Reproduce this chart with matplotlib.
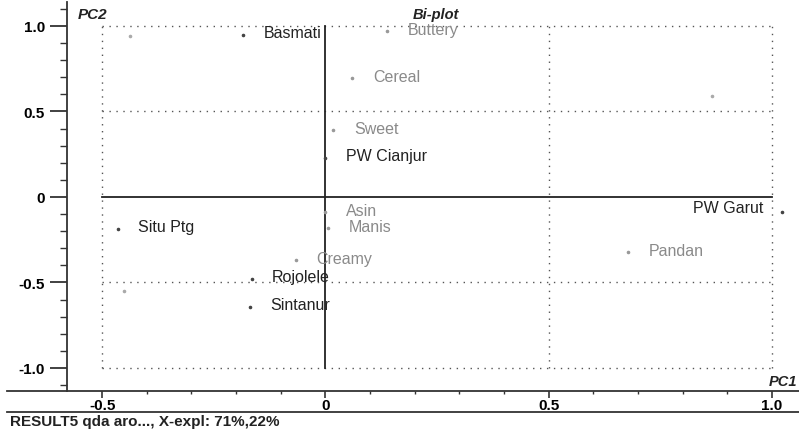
import matplotlib
matplotlib.use("Agg")
import matplotlib.pyplot as plt
from matplotlib.lines import Line2D
from matplotlib.ticker import MultipleLocator

plt.rcParams['font.family'] = ['Liberation Sans', 'DejaVu Sans']

# Samples (scores) - black labels
sample_names = ["Basmati", "PW Cianjur", "PW Garut", "Situ Ptg", "Rojolele", "Sintanur"]
sample_pc1 = [-0.184, 0.0, 1.022, -0.465, -0.165, -0.169]
sample_pc2 = [0.947, 0.228, -0.088, -0.187, -0.48, -0.645]

# Attributes (loadings) - grey labels
attr_names = ["Buttery", "Cereal", "Sweet", "Asin", "Manis", "Creamy", "Pandan"]
attr_pc1 = [0.137, 0.06, 0.018, 0.0, 0.005, -0.067, 0.678]
attr_pc2 = [0.97, 0.695, 0.39, -0.088, -0.18, -0.37, -0.32]

# Unlabelled faint points
extra_pc1 = [-0.438, -0.452, 0.865]
extra_pc2 = [0.94, -0.55, 0.59]

xticks = [-0.5, 0, 0.5, 1.0]
xtick_labels = ["-0.5", "0", "0.5", "1.0"]
yticks = [1.0, 0.5, 0, -0.5, -1.0]
ytick_labels = ["1.0", "0.5", "0", "-0.5", "-1.0"]

fig = plt.figure(figsize=(7.99, 4.31), dpi=100)
ax = fig.add_axes([67/799, 39/431, 1 - 67/799, (392-3)/431])
ax.set_xlim(-0.5787, 1.0605)
ax.set_ylim(-1.135, 1.14)

for s in ["top", "right"]:
    ax.spines[s].set_visible(False)
ax.spines["left"].set_linewidth(1.3)
ax.spines["left"].set_color("#333333")
ax.spines["bottom"].set_visible(False)

# dotted grid box
dot_kw = dict(color="#555555", linestyle=(0, (1, 4)), linewidth=1.0, zorder=1)
for xv in [-0.5, 0.5, 1.0]:
    ax.plot([xv, xv], [-1.0, 1.0], **dot_kw)
for yv in [1.0, 0.5, -0.5, -1.0]:
    ax.plot([-0.5, 1.0], [yv, yv], **dot_kw)
# solid axes lines
ax.plot([0, 0], [-1.0, 1.0], color="#222222", linewidth=1.3, zorder=2)
ax.plot([-0.5, 1.0], [0, 0], color="#222222", linewidth=1.3, zorder=2)

# points
ax.scatter(sample_pc1, sample_pc2, s=2.5, color="#444444", zorder=3)
ax.scatter(attr_pc1, attr_pc2, s=2.5, color="#999999", zorder=3)
ax.scatter(extra_pc1, extra_pc2, s=2.5, color="#aaaaaa", zorder=3)

LBL = 11.5
for n, x, y in zip(sample_names, sample_pc1, sample_pc2):
    if n == "PW Garut":
        ax.annotate(n, (x, y), xytext=(-13, 3), textcoords="offset points",
                    ha="right", va="center", fontsize=LBL, color="#222222")
    else:
        ax.annotate(n, (x, y), xytext=(14.5, 2), textcoords="offset points",
                    ha="left", va="center", fontsize=LBL, color="#222222")
for n, x, y in zip(attr_names, attr_pc1, attr_pc2):
    ax.annotate(n, (x, y), xytext=(15, 1), textcoords="offset points",
                ha="left", va="center", fontsize=LBL, color="#8a8a8a")

# ticks
ax.set_yticks(yticks)
ax.set_yticklabels(ytick_labels, fontweight="bold", fontsize=11)
ax.yaxis.set_minor_locator(MultipleLocator(0.1))
ax.tick_params(axis="y", which="major", length=12, width=1.3, color="#333333", pad=4)
ax.tick_params(axis="y", which="minor", length=5, width=1.0, color="#333333")

ax.set_xticks(xticks)
ax.set_xticklabels(xtick_labels, fontweight="bold", fontsize=11)
ax.xaxis.set_minor_locator(MultipleLocator(0.1))
ax.tick_params(axis="x", which="major", length=5, width=1.2, color="#333333", pad=0)
ax.tick_params(axis="x", which="minor", length=2, width=1.0, color="#333333")

# axis / title labels
ax.text(-0.554, 1.07, "PC2", fontsize=11, fontweight="bold", style="italic",
        ha="left", va="center", color="#222222")
ax.text(1.057, -1.075, "PC1", fontsize=10.5, fontweight="bold", style="italic",
        ha="right", va="center", color="#222222")
ax.text(0.248, 1.07, "Bi-plot", fontsize=10.5, fontweight="bold", style="italic",
        ha="center", va="center", color="#222222")

# figure lines (bottom axis line and line below tick labels)
fig.add_artist(Line2D([7/799, 1.0], [1 - 392/431, 1 - 392/431], color="#333333",
                      linewidth=1.3, transform=fig.transFigure))
fig.add_artist(Line2D([7/799, 1.0], [1 - 413/431, 1 - 413/431], color="#333333",
                      linewidth=1.3, transform=fig.transFigure))
fig.text(10/799, 1 - 422.5/431, "RESULT5 qda aro..., X-expl: 71%,22%", fontsize=11,
         fontweight="bold", ha="left", va="center", color="#222222")

fig.savefig("out.png", dpi=100)
